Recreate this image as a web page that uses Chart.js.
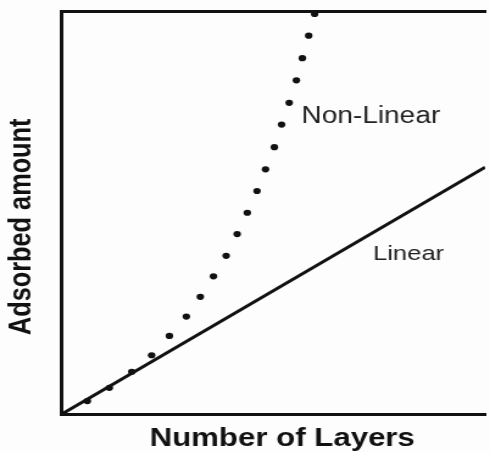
<!DOCTYPE html>
<html>
<head>
<meta charset="utf-8">
<script src="https://cdn.jsdelivr.net/npm/chart.js@4"></script>
<style>
  html, body { margin: 0; padding: 0; background: #fdfdfd; overflow: hidden; }
  #wrap { width: 490px; height: 452px; position: relative; overflow: hidden; }
  #c { position: absolute; left: 0; top: 0; transform: scaleX(1.219); transform-origin: 0 0; }
</style>
</head>
<body>
<div id="wrap"><canvas id="c" width="402" height="452"></canvas></div>
<script>
// ---- data ----
const xTitle = "  Number of Layers";
const yTitle = "Adsorbed amount    ";
const seriesNames = ["Linear", "Non-Linear"];

// Linear series (straight line through origin)
const linearX = [0, 10];
const linearY = [0, 6.13];

// Non-linear series (dotted curve; one value per dot)
const nonLinearX = [0.60, 1.12, 1.65, 2.12, 2.54, 2.94, 3.27, 3.58, 3.88, 4.14, 4.38, 4.61, 4.81, 5.02, 5.19, 5.37, 5.54, 5.68, 5.83, 5.97];
const nonLinearY = [0.32, 0.65, 1.05, 1.46, 1.94, 2.42, 2.91, 3.42, 3.93, 4.47, 5.00, 5.54, 6.08, 6.63, 7.19, 7.73, 8.29, 8.84, 9.40, 9.94];

// label anchor values (data coords) for the in-plot series names
const labelX = [7.35, 5.66];
const labelY = [3.97, 7.38];
const labelSize = [21, 23];

const toPts = (xs, ys) => xs.map((x, i) => ({ x: x, y: ys[i] }));

const labelPlugin = {
  id: 'seriesLabels',
  afterDatasetsDraw(chart) {
    const ctx = chart.ctx;
    const xs = chart.scales.x, ys = chart.scales.y;
    ctx.save();
    ctx.fillStyle = '#222';
    ctx.textAlign = 'left';
    ctx.textBaseline = 'middle';
    seriesNames.forEach((name, i) => {
      ctx.font = labelSize[i] + 'px "Liberation Sans", Arial, sans-serif';
      ctx.fillText(name, xs.getPixelForValue(labelX[i]), ys.getPixelForValue(labelY[i]));
    });
    ctx.restore();
  }
};

new Chart(document.getElementById('c'), {
  type: 'scatter',
  data: {
    datasets: [
      {
        label: seriesNames[0],
        data: toPts(linearX, linearY),
        showLine: true,
        borderColor: '#111',
        borderWidth: 3,
        pointRadius: 0,
        fill: false
      },
      {
        label: seriesNames[1],
        data: toPts(nonLinearX, nonLinearY),
        showLine: false,
        pointRadius: 3.1,
        pointBackgroundColor: '#111',
        pointBorderWidth: 0,
        borderColor: '#111'
      }
    ]
  },
  options: {
    responsive: false,
    devicePixelRatio: 1,
    animation: false,
    layout: { padding: { left: 5.35, top: 11.5, right: 0, bottom: 0 } },
    plugins: { legend: { display: false }, tooltip: { enabled: false } },
    scales: {
      x: {
        type: 'linear', position: 'bottom', min: 0, max: 10,
        ticks: { display: false },
        grid: { display: false, drawTicks: false },
        border: { display: true, color: '#111', width: 3 },
        title: {
          display: true, text: xTitle, color: '#111',
          font: { family: '"Liberation Sans", Arial, sans-serif', size: 25.6, weight: 'bold', lineHeight: 1.0 },
          padding: { top: 12.4, bottom: 0 }
        }
      },
      xTop: {
        type: 'linear', position: 'top', min: 0, max: 10,
        ticks: { display: false },
        grid: { display: false, drawTicks: false },
        border: { display: true, color: '#111', width: 3 }
      },
      y: {
        type: 'linear', position: 'left', min: 0, max: 10,
        ticks: { display: false },
        grid: { display: false, drawTicks: false },
        border: { display: true, color: '#111', width: 3 },
        title: {
          display: true, text: yTitle, color: '#111',
          font: { family: '"Liberation Sans", Arial, sans-serif', size: 25.3, weight: 'bold', lineHeight: 1.0 },
          padding: { top: 0, bottom: 20.15 }
        }
      }
    }
  },
  plugins: [labelPlugin]
});
</script>
</body>
</html>
